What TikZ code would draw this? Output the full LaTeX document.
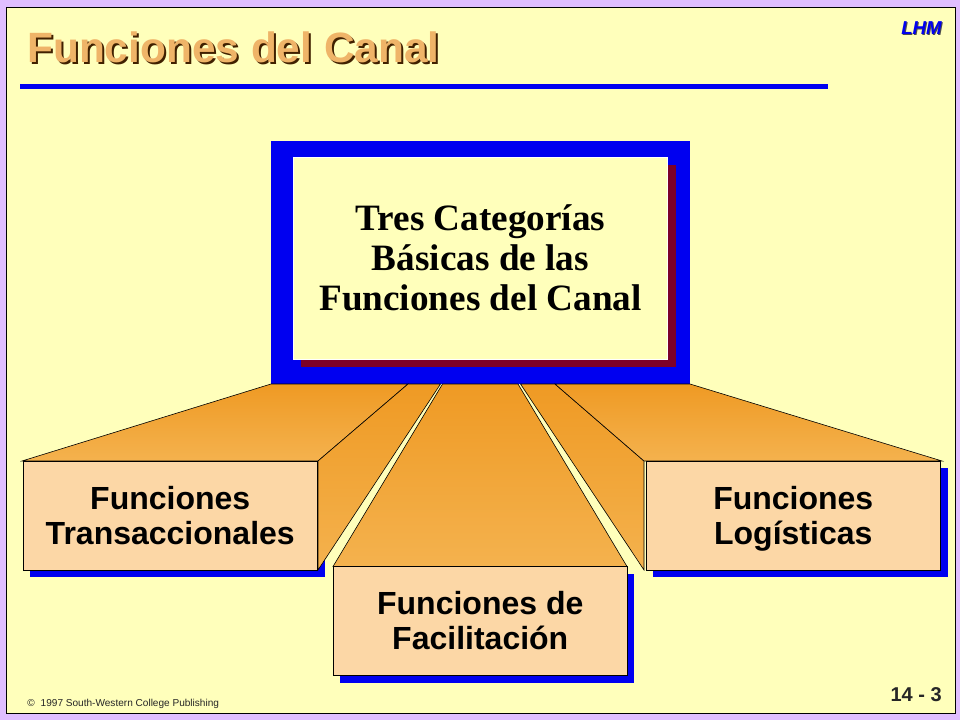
\documentclass[tikz,border=0pt]{standalone}
\usepackage{fontspec}
\setmainfont{Liberation Serif}
\setsansfont{Liberation Sans}
\usetikzlibrary{calc}
\definecolor{lilac}{HTML}{E0BEFF}
\definecolor{paper}{HTML}{FFFFBB}
\definecolor{rulecol}{HTML}{0000F0}
\definecolor{wine}{HTML}{7C0028}
\definecolor{peach}{HTML}{FCD7A6}
\definecolor{orangetop}{HTML}{EF9A24}
\definecolor{orangebot}{HTML}{F4B24E}
\definecolor{titlecol}{HTML}{EFB468}
\def\px{0.75pt}
\tikzset{
  x=0.75pt,y=-0.75pt,
  plate/.style={anchor=north west,inner sep=0pt,outer sep=0pt,minimum width=#1*\px},
  subbox/.style={plate=294.5,minimum height=109*\px,fill=peach,draw=black,line width=1*\px,
    font=\fontsize{24}{26.25}\selectfont\sffamily\bfseries,align=center,text=black},
  subshadow/.style={plate=#1,minimum height=109*\px,fill=rulecol},
  wedge/.style={draw=black,line width=0.6*\px,top color=orangetop,bottom color=orangebot},
  titletext/.style={anchor=base west,inner sep=0pt,font=\fontsize{31.8}{36}\selectfont\sffamily\bfseries},
  lhmtext/.style={anchor=base east,inner sep=0pt,font=\fontsize{14}{16}\selectfont\sffamily\bfseries\itshape},
}
\begin{document}
\begin{tikzpicture}
\useasboundingbox (0,0) rectangle (960,720);
\fill[lilac] (0,0) rectangle (960,720);
\draw[fill=paper,line width=1*\px] (6.5,7.5) rectangle (955,713);

% title
\node[titletext,text=black!75!orange] (titleshadow) at (29,64.5) {Funciones del Canal};
\node[titletext,text=titlecol] (title) at (27,62.5) {Funciones del Canal};
\fill[rulecol] (20,84) rectangle (828,89);

% LHM
\node[lhmtext,text=black!70] (lhmshadow) at (943,36) {LHM};
\node[lhmtext,text=rulecol] (lhm) at (942,35) {LHM};

% central stack
\node[plate=419,minimum height=243*\px,fill=rulecol] (back) at (271,141) {};
\node[plate=375,minimum height=202*\px,fill=wine] (mainshadow) at (301,165) {};

% shadows of the lower boxes
\node[subshadow=295] (leftshadow) at (30,468) {};
\node[subshadow=294] (midshadow) at (340,573.5) {};
\node[subshadow=295] (rightshadow) at (653,468) {};

% named points on the lower edge of the blue plate
\coordinate (t1) at (408,384);
\coordinate (t2) at (440.5,384);
\coordinate (t3) at (442.5,384);
\coordinate (t4) at (518,384);
\coordinate (t5) at (520.5,384);
\coordinate (t6) at (555,384);
\coordinate (l1) at (22,461);
\coordinate (l2) at (318,461);
\coordinate (l3) at (318,570);
\coordinate (r1) at (644,461);
\coordinate (r2) at (644,570);
\coordinate (r3) at (942,461);
\coordinate (m1) at (333,566.5);
\coordinate (m2) at (627,566.5);

% wedges
\draw[wedge] (back.south west) -- (t1) -- (l2) -- (l1) -- cycle;
\draw[wedge] (t1) -- (t2) -- (l3) -- (l2) -- cycle;
\draw[wedge] (t3) -- (t4) -- (m2) -- (m1) -- cycle;
\draw[wedge] (t5) -- (t6) -- (r1) -- (r2) -- cycle;
\draw[wedge] (t6) -- (back.south east) -- (r3) -- (r1) -- cycle;

% front boxes
\node[plate=374,minimum height=201.5*\px,fill=paper,draw=white,line width=1*\px,
  font=\fontsize{27.9}{30}\selectfont\bfseries,align=center,text=black] (main) at (293.5,157.5)
  {Tres Categorías\\Básicas de las\\Funciones del Canal};
\node[subbox] (left) at (23,461) {Funciones\\Transaccionales};
\node[subbox] (mid) at (333,566.5) {Funciones de\\Facilitación};
\node[subbox] (right) at (646,461) {Funciones\\\smash{Logísticas}};

% footer
\node[anchor=base west,inner sep=0pt,font=\fontsize{7.55}{10}\selectfont\sffamily,text=black!85] (copy) at (27,706.5)
  {\textcopyright\hspace{0.6em}1997 South-Western College Publishing};
\node[anchor=base east,inner sep=0pt,font=\fontsize{15}{18}\selectfont\sffamily\bfseries,text=black!85] (page) at (942,701)
  {14 - 3};
\end{tikzpicture}
\end{document}
